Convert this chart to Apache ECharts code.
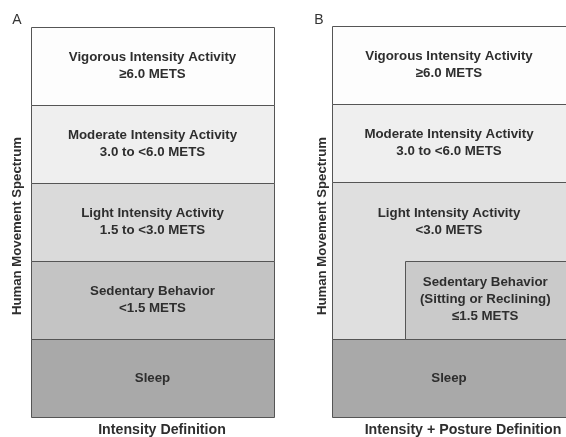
<!DOCTYPE html>
<html>
<head>
<meta charset="utf-8">
<script src="https://cdn.jsdelivr.net/npm/echarts@6/dist/echarts.min.js"></script>
<style>html,body{margin:0;padding:0;background:#fff}#c{width:566px;height:437px}</style>
</head>
<body>
<div id="c"></div>
<script>
// Panel A: intensity definition (levels of the movement spectrum, bottom to top)
const labelsA = ['Sleep', 'Sedentary Behavior\n<1.5 METS', 'Light Intensity Activity\n1.5 to <3.0 METS', 'Moderate Intensity Activity\n3.0 to <6.0 METS', 'Vigorous Intensity Activity\n≥6.0 METS'];
const x0A = [0, 0, 0, 0, 0];
const x1A = [1, 1, 1, 1, 1];
const y0A = [0, 1, 2, 3, 4];
const y1A = [1, 2, 3, 4, 5];
const labelYA = [0.5, 1.5, 2.5, 3.5, 4.5];

// Panel B: intensity + posture definition
const labelsB = ['Sleep', 'Light Intensity Activity\n<3.0 METS', 'Sedentary Behavior\n(Sitting or Reclining)\n≤1.5 METS', 'Moderate Intensity Activity\n3.0 to <6.0 METS', 'Vigorous Intensity Activity\n≥6.0 METS'];
const x0B = [0, 0, 0.31, 0, 0];
const x1B = [1, 1, 1, 1, 1];
const y0B = [0, 1, 1, 3, 4];
const y1B = [1, 3, 2, 4, 5];
const labelYB = [0.5, 2.5, 1.5, 3.5, 4.5];

const colorsA = ['#a9a9a9', '#c4c4c4', '#dadada', '#efefef', '#fdfdfd'];
const colorsB = ['#a9a9a9', '#dfdfdf', '#cacaca', '#efefef', '#fdfdfd'];

const FONT = '"Liberation Sans", Arial, sans-serif';

function build(labels, x0, x1, y0, y1, ly) {
  return labels.map((l, i) => [x0[i], x1[i], y0[i], y1[i], ly[i], l]);
}

function makeRender(colors) {
  return function (params, api) {
    const i = params.dataIndex;
    const p0 = api.coord([api.value(0), api.value(3)]);
    const p1 = api.coord([api.value(1), api.value(2)]);
    const pl = api.coord([(api.value(0) + api.value(1)) / 2, api.value(4)]);
    const xa = Math.round(p0[0]), ya = Math.round(p0[1]);
    const xb = Math.round(p1[0]), yb = Math.round(p1[1]);
    return {
      type: 'group',
      children: [
        {
          type: 'rect',
          shape: { x: xa + 0.5, y: ya + 0.5, width: xb - xa, height: yb - ya },
          style: { fill: colors[i], stroke: '#555', lineWidth: 1 }
        },
        {
          type: 'text',
          x: pl[0], y: pl[1],
          style: {
            text: api.value(5),
            fontFamily: FONT, fontWeight: 'bold', fontSize: 13.3, lineHeight: 17,
            fill: '#2e2e2e', align: 'center', verticalAlign: 'middle'
          }
        }
      ]
    };
  };
}

const chart = echarts.init(document.getElementById('c'), null, { renderer: 'canvas' });
chart.setOption({
  animation: false,
  backgroundColor: '#fff',
  grid: [
    { left: 31, top: 27, width: 243, height: 390 },
    { left: 332, top: 26, width: 240, height: 391 }
  ],
  xAxis: [
    { gridIndex: 0, type: 'value', min: 0, max: 1, show: false },
    { gridIndex: 1, type: 'value', min: 0, max: 1, show: false }
  ],
  yAxis: [
    { gridIndex: 0, type: 'value', min: 0, max: 5, show: false },
    { gridIndex: 1, type: 'value', min: 0, max: 5, show: false }
  ],
  series: [
    {
      type: 'custom', xAxisIndex: 0, yAxisIndex: 0,
      renderItem: makeRender(colorsA),
      dimensions: ['x0', 'x1', 'y0', 'y1', 'ly', { name: 'label', type: 'ordinal' }],
      encode: { x: [0, 1], y: [2, 3] },
      data: build(labelsA, x0A, x1A, y0A, y1A, labelYA),
      clip: false
    },
    {
      type: 'custom', xAxisIndex: 1, yAxisIndex: 1,
      renderItem: makeRender(colorsB),
      dimensions: ['x0', 'x1', 'y0', 'y1', 'ly', { name: 'label', type: 'ordinal' }],
      encode: { x: [0, 1], y: [2, 3] },
      data: build(labelsB, x0B, x1B, y0B, y1B, labelYB),
      clip: false
    }
  ],
  graphic: [
    { type: 'text', x: 17, y: 20, style: { text: 'A', fontFamily: FONT, fontSize: 14, fill: '#333', align: 'center', verticalAlign: 'middle' } },
    { type: 'text', x: 319, y: 20, style: { text: 'B', fontFamily: FONT, fontSize: 14, fill: '#333', align: 'center', verticalAlign: 'middle' } },
    { type: 'text', x: 17, y: 226, rotation: Math.PI / 2, style: { text: 'Human Movement Spectrum', fontFamily: FONT, fontWeight: 'bold', fontSize: 13.2, fill: '#2e2e2e', align: 'center', verticalAlign: 'middle' } },
    { type: 'text', x: 322, y: 226, rotation: Math.PI / 2, style: { text: 'Human Movement Spectrum', fontFamily: FONT, fontWeight: 'bold', fontSize: 13.2, fill: '#2e2e2e', align: 'center', verticalAlign: 'middle' } },
    { type: 'text', x: 162, y: 430, style: { text: 'Intensity Definition', fontFamily: FONT, fontWeight: 'bold', fontSize: 14.2, fill: '#2e2e2e', align: 'center', verticalAlign: 'middle' } },
    { type: 'text', x: 463, y: 430, style: { text: 'Intensity + Posture Definition', fontFamily: FONT, fontWeight: 'bold', fontSize: 14.2, fill: '#2e2e2e', align: 'center', verticalAlign: 'middle' } }
  ]
});
</script>
</body>
</html>
